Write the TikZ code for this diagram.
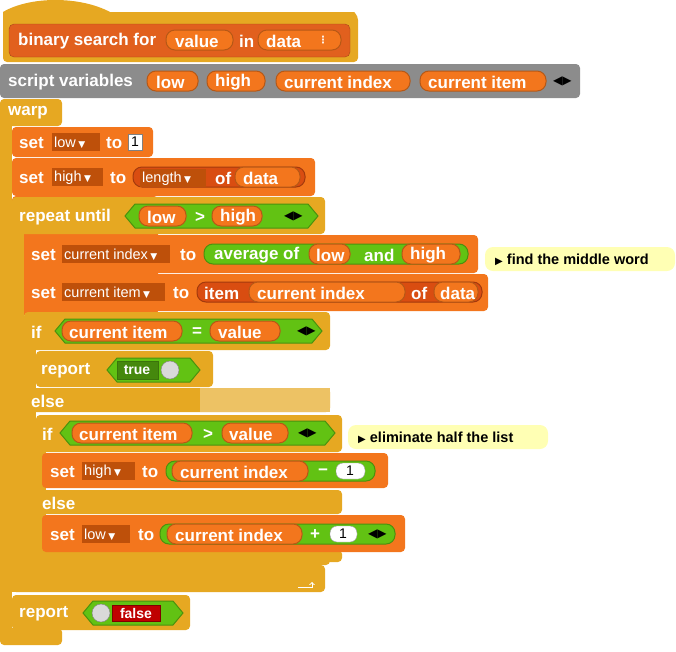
\documentclass[tikz,border=0pt]{standalone}
\usepackage{fontspec}
\setmainfont{Liberation Sans}
\newfontfamily\djv{DejaVu Sans}
\definecolor{ctrl}{RGB}{230,168,34}
\definecolor{varc}{RGB}{243,118,29}
\definecolor{opc}{RGB}{98,194,19}
\definecolor{lstc}{RGB}{217,77,17}
\definecolor{hatc}{RGB}{225,96,30}
\definecolor{grayc}{RGB}{140,140,140}
\definecolor{cmt}{RGB}{255,255,180}
\definecolor{ddc}{RGB}{190,80,10}
\newcommand\blk[5]{\fill[#5,rounded corners=4pt] (#1,#3) rectangle (#2,#4);}
\newcommand\pill[4]{\draw[draw=#4!75!black,fill=#4,rounded corners=9pt,line width=1pt] (#1,#3-10) rectangle (#2,#3+10);}
\newcommand\hexa[5]{\draw[fill=#5,draw=#5!75!black,line width=1pt] (#1,#3) -- (#1+10,#3-#4) -- (#2-10,#3-#4) -- (#2,#3) -- (#2-10,#3+#4) -- (#1+10,#3+#4) -- cycle;}
\newcommand\tx[3]{\node[lbl] at (#1,#2+1) {#3};}
\newcommand\dd[4]{\fill[ddc] (#1,#3-9) rectangle (#2,#3+9);\node[anchor=west,inner sep=0,text=white,font=\fontsize{14.5}{15}\selectfont] at (#1+2,#3+1) {#4\,{\djv\fontsize{9}{9}\selectfont▼}};}
\newcommand\arr[2]{\node[anchor=west,inner sep=0,text=black,font=\djv\fontsize{12}{12}\selectfont] at (#1,#2) {◀▶};}
\begin{document}
\begin{tikzpicture}[x=1pt,y=-1pt,lbl/.style={anchor=west,inner sep=0,text=white,font=\bfseries\fontsize{17}{18}\selectfont}]
\useasboundingbox (0,0) rectangle (676,651);
% hat
\fill[ctrl] (3,62) -- (3,12) .. controls (30,-4) and (80,-4) .. (110,12) -- (354,12) [rounded corners=4pt]-- (358,16) -- (358,62) -- cycle;
\draw[fill=hatc,draw=hatc!75!black,rounded corners=5pt] (9,24) rectangle (350,57);
\tx{18}{40}{binary search for}
\pill{166}{233}{40}{varc}\tx{175}{40}{value}
\tx{239}{40}{in}
\pill{258}{341}{40}{varc}\tx{266}{40}{data}\node[anchor=west,inner sep=0,text=white,font=\djv\bfseries] at (318,40){⋮};
% script variables
\blk{0}{580}{64}{98}{grayc}
\tx{8}{81}{script variables}
\pill{147}{198}{81}{varc}\tx{156}{81}{low}
\pill{207}{265}{81}{varc}\tx{215}{81}{high}
\pill{276}{410}{81}{varc}\tx{284}{81}{current index}
\pill{420}{546}{81}{varc}\tx{428}{81}{current item}
\arr{553}{81}
% warp
\blk{0}{62}{99}{126}{ctrl}\fill[ctrl](0,110) rectangle (12,640);\blk{0}{62}{628}{645}{ctrl}
\tx{8}{112}{warp}
% set low
\blk{12}{153}{127}{157}{varc}\tx{19}{142}{set}\dd{52}{100}{142}{low}\tx{106}{142}{to}
\draw[fill=white,draw=black!50] (128,134) rectangle (142,150);\node[font=\fontsize{14}{14}\selectfont,inner sep=0] at (135,142){1};
% set high
\blk{12}{158}{315}{196}{varc}
\blk{12}{315}{158}{196}{varc}\tx{19}{177}{set}\dd{52}{103}{177}{high}\tx{110}{177}{to}
\pill{133}{305}{177}{lstc}\dd{140}{206}{178}{length}\tx{215}{177}{of}\pill{235}{300}{177}{varc}\tx{243}{177}{data}
% repeat until
\blk{12}{325}{197}{234}{ctrl}\fill[ctrl](12,225) rectangle (24,592);\blk{12}{325}{565}{592}{ctrl}
\tx{19}{216}{repeat until}
\hexa{125}{318}{216}{12}{opc}
\pill{139}{186}{216}{varc}\tx{147}{216}{low}\tx{195}{216}{>}\pill{212}{262}{216}{varc}\tx{220}{216}{high}\arr{284}{216}
\draw[white,line width=1pt,->] (298,587) -- (312,587) -- (312,582);
% set current index
\blk{24}{478}{235}{273}{varc}\tx{31}{254}{set}\dd{62}{170}{254}{current index}\tx{180}{254}{to}
\pill{204}{468}{254}{opc}\tx{214}{254}{average of}\pill{309}{350}{254}{varc}\tx{316}{254}{low}\tx{364}{254}{and}\pill{402}{460}{254}{varc}\tx{410}{254}{high}
\fill[cmt,rounded corners=8pt] (485,247) rectangle (675,271);
\node[anchor=west,inner sep=0,font=\bfseries\fontsize{14.5}{15}\selectfont] at (495,260){{\djv\fontsize{10}{10}\selectfont▶}\ find the middle word};
% set current item
\blk{24}{488}{274}{311}{varc}\tx{31}{292}{set}\dd{62}{165}{292}{current item}\tx{173}{292}{to}
\pill{197}{482}{292}{lstc}\tx{204}{292}{item}\pill{249}{405}{292}{varc}\tx{257}{292}{current index}\tx{411}{292}{of}\pill{434}{478}{292}{varc}\tx{440}{292}{data}
% if
\blk{24}{330}{312}{350}{ctrl}\fill[ctrl](24,340) rectangle (36,565);\blk{24}{330}{388}{412}{ctrl}\blk{24}{330}{552}{565}{ctrl}
\fill[ctrl!70!white](200,388) rectangle (330,412);
\tx{31}{331}{if}
\hexa{55}{322}{331}{12}{opc}
\pill{62}{182}{331}{varc}\tx{69}{331}{current item}\tx{192}{331}{=}\pill{210}{280}{331}{varc}\tx{218}{331}{value}\arr{297}{331}
% report true
\blk{36}{213}{351}{387}{ctrl}\tx{41}{370}{report}
\hexa{107}{200}{370}{12}{opc}
\draw[fill=opc!70!black,draw=opc!60!black] (117,361) rectangle (158,379);\node[inner sep=0,text=white,font=\bfseries\fontsize{14}{14}\selectfont] at (137,370){true};
\draw[fill=black!15,draw=black!50] (170,370) circle (9);
\tx{31}{400}{else}
% inner if
\blk{36}{342}{415}{452}{ctrl}\fill[ctrl](36,440) rectangle (46,560);\blk{36}{342}{490}{514}{ctrl}\blk{36}{342}{550}{562}{ctrl}
\tx{42}{433}{if}
\hexa{60}{335}{433}{12}{opc}
\pill{72}{192}{433}{varc}\tx{79}{433}{current item}\tx{203}{433}{>}\pill{222}{288}{433}{varc}\tx{229}{433}{value}\arr{298}{433}
\fill[cmt,rounded corners=8pt] (348,425) rectangle (548,449);
\node[anchor=west,inner sep=0,font=\bfseries\fontsize{14.5}{15}\selectfont] at (358,438){{\djv\fontsize{10}{10}\selectfont▶}\ eliminate half the list};
% set high
\blk{42}{388}{453}{488}{varc}\tx{50}{471}{set}\dd{82}{135}{471}{high}\tx{142}{471}{to}
\pill{166}{375}{471}{opc}\pill{172}{308}{471}{varc}\tx{180}{471}{current index}\tx{318}{471}{−}
\draw[fill=white,draw=black!40,rounded corners=7pt] (336,463) rectangle (365,479);\node[inner sep=0,font=\fontsize{14}{14}\selectfont] at (350,471){1};
\tx{42}{502}{else}
% set low
\blk{42}{405}{515}{552}{varc}\tx{50}{534}{set}\dd{82}{130}{534}{low}\tx{138}{534}{to}
\pill{160}{395}{534}{opc}\pill{167}{302}{534}{varc}\tx{175}{534}{current index}\tx{310}{534}{+}
\draw[fill=white,draw=black!40,rounded corners=7pt] (330,526) rectangle (357,542);\node[inner sep=0,font=\fontsize{14}{14}\selectfont] at (343,534){1};\arr{368}{534}
% report false
\blk{12}{190}{595}{630}{ctrl}\tx{19}{613}{report}
\hexa{83}{183}{613}{12}{opc}
\draw[fill=black!15,draw=black!50] (101,613) circle (9);
\draw[fill=red!75!black,draw=red!50!black] (112,605) rectangle (160,621);\node[inner sep=0,text=white,font=\bfseries\fontsize{14}{14}\selectfont] at (136,613){false};
\end{tikzpicture}
\end{document}
